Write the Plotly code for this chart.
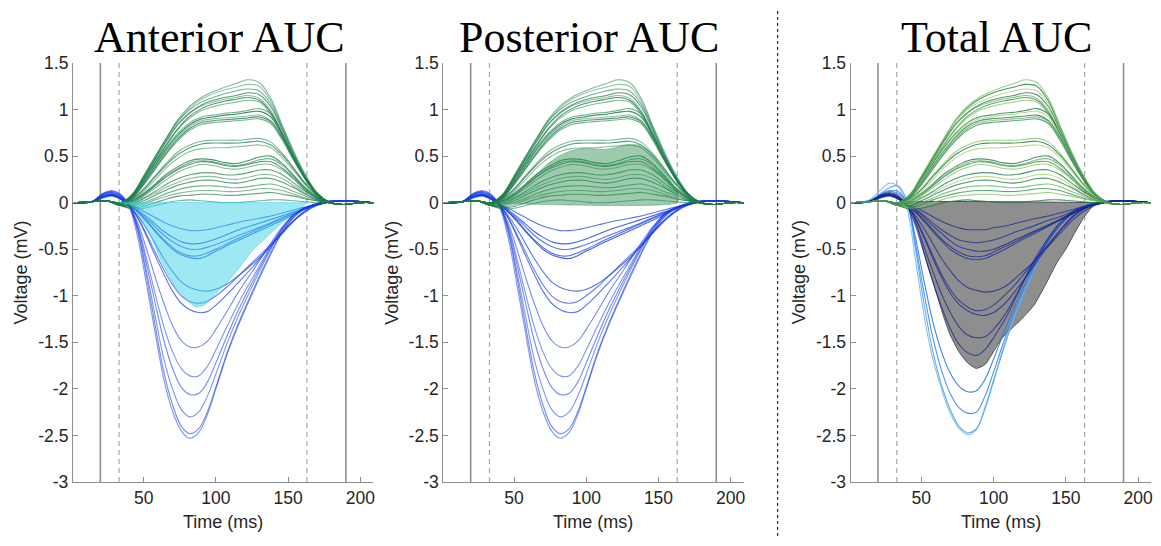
import plotly.graph_objects as go

W, H = 1161, 546

# ---------------- data ----------------
TIME_NEG = [1, 14, 22, 28, 34, 40, 46, 52, 58, 64, 70, 76, 82, 88, 94, 100, 108, 116, 126, 136, 146, 156, 166, 176, 188, 209]
TIME_POS = [1, 14, 24, 34, 42, 50, 58, 66, 74, 82, 90, 98, 106, 114, 122, 130, 138, 146, 154, 162, 170, 178, 188, 200, 209]

# negative (blue) channels, anterior / posterior panels
NEG_AP = [
    [0, 0.01, 0.09, 0.12, 0.08, -0.05, -0.38, -0.88, -1.4, -1.9, -2.24, -2.45, -2.53, -2.47, -2.28, -2.0, -1.62, -1.3, -0.95, -0.62, -0.32, -0.13, -0.03, 0.01, 0.02, 0],
    [0, 0.01, 0.1, 0.13, 0.09, -0.03, -0.32, -0.8, -1.32, -1.82, -2.17, -2.4, -2.48, -2.43, -2.25, -1.98, -1.6, -1.28, -0.93, -0.6, -0.31, -0.12, -0.03, 0.01, 0.02, 0],
    [0, 0.01, 0.1, 0.12, 0.08, -0.03, -0.3, -0.74, -1.22, -1.68, -2.0, -2.22, -2.3, -2.25, -2.08, -1.84, -1.5, -1.2, -0.87, -0.56, -0.29, -0.11, -0.03, 0.01, 0.02, 0],
    [0, 0.01, 0.09, 0.11, 0.07, -0.03, -0.27, -0.66, -1.08, -1.48, -1.78, -1.98, -2.06, -2.05, -1.93, -1.72, -1.42, -1.14, -0.83, -0.54, -0.28, -0.11, -0.03, 0.01, 0.02, 0],
    [0, 0.01, 0.09, 0.11, 0.07, -0.03, -0.25, -0.6, -0.98, -1.33, -1.6, -1.78, -1.86, -1.86, -1.76, -1.58, -1.32, -1.07, -0.79, -0.52, -0.27, -0.1, -0.03, 0.01, 0.02, 0],
    [0, 0.01, 0.08, 0.1, 0.06, -0.03, -0.22, -0.5, -0.8, -1.08, -1.32, -1.48, -1.55, -1.55, -1.49, -1.36, -1.16, -0.95, -0.72, -0.48, -0.26, -0.1, -0.03, 0.01, 0.02, 0],
    [0, 0.01, 0.07, 0.09, 0.05, -0.03, -0.17, -0.36, -0.57, -0.77, -0.95, -1.08, -1.15, -1.18, -1.17, -1.1, -0.98, -0.85, -0.68, -0.5, -0.32, -0.16, -0.05, 0.0, 0.02, 0],
    [0, 0.01, 0.07, 0.09, 0.05, -0.03, -0.16, -0.34, -0.53, -0.72, -0.88, -1.0, -1.06, -1.08, -1.06, -1.0, -0.9, -0.78, -0.63, -0.48, -0.31, -0.16, -0.05, 0.0, 0.02, 0],
    [0, 0.01, 0.06, 0.08, 0.04, -0.03, -0.14, -0.28, -0.44, -0.6, -0.74, -0.85, -0.91, -0.94, -0.95, -0.93, -0.87, -0.78, -0.65, -0.5, -0.33, -0.17, -0.06, 0.0, 0.02, 0],
    [0, 0.01, 0.07, 0.09, 0.05, -0.02, -0.1, -0.2, -0.31, -0.41, -0.5, -0.56, -0.59, -0.6, -0.57, -0.52, -0.46, -0.4, -0.33, -0.26, -0.19, -0.11, -0.04, 0.0, 0.02, 0],
    [0, 0.01, 0.07, 0.09, 0.05, -0.02, -0.1, -0.19, -0.3, -0.4, -0.48, -0.54, -0.57, -0.57, -0.54, -0.5, -0.44, -0.38, -0.31, -0.24, -0.17, -0.1, -0.04, 0.0, 0.02, 0],
    [0, 0.01, 0.06, 0.08, 0.04, -0.02, -0.09, -0.17, -0.26, -0.35, -0.42, -0.47, -0.5, -0.5, -0.48, -0.45, -0.4, -0.35, -0.29, -0.23, -0.16, -0.1, -0.04, 0.0, 0.02, 0],
    [0, 0.01, 0.06, 0.08, 0.04, -0.02, -0.08, -0.15, -0.23, -0.31, -0.37, -0.42, -0.44, -0.44, -0.42, -0.39, -0.34, -0.29, -0.24, -0.19, -0.14, -0.09, -0.04, 0.0, 0.02, 0],
    [0, 0.01, 0.05, 0.07, 0.04, -0.02, -0.06, -0.11, -0.16, -0.21, -0.25, -0.28, -0.3, -0.3, -0.29, -0.27, -0.24, -0.21, -0.18, -0.15, -0.11, -0.07, -0.03, 0.0, 0.02, 0],
]

# negative (blue) channels, total panel
NEG_TOTAL = [
    [0, 0.03, 0.14, 0.21, 0.17, -0.05, -0.62, -1.22, -1.68, -2.0, -2.26, -2.42, -2.49, -2.44, -2.2, -1.9, -1.5, -1.15, -0.78, -0.45, -0.22, -0.08, -0.02, 0.01, 0.02, 0],
    [0, 0.02, 0.1, 0.16, 0.18, 0.02, -0.5, -1.1, -1.6, -1.96, -2.22, -2.4, -2.47, -2.43, -2.22, -1.92, -1.52, -1.17, -0.8, -0.46, -0.22, -0.08, -0.02, 0.01, 0.02, 0],
    [0, 0.02, 0.09, 0.13, 0.12, 0.0, -0.45, -0.98, -1.45, -1.8, -2.05, -2.2, -2.26, -2.25, -2.08, -1.82, -1.45, -1.12, -0.77, -0.45, -0.22, -0.08, -0.02, 0.01, 0.02, 0],
    [0, 0.02, 0.09, 0.12, 0.1, 0.0, -0.38, -0.85, -1.28, -1.6, -1.83, -1.97, -2.03, -2.02, -1.9, -1.68, -1.36, -1.06, -0.74, -0.44, -0.21, -0.08, -0.02, 0.01, 0.02, 0],
    [0, 0.01, 0.08, 0.11, 0.08, -0.03, -0.25, -0.55, -0.85, -1.12, -1.35, -1.52, -1.61, -1.64, -1.58, -1.45, -1.25, -1.0, -0.68, -0.42, -0.22, -0.09, -0.02, 0.01, 0.02, 0],
    [0, 0.01, 0.08, 0.1, 0.07, -0.03, -0.22, -0.48, -0.74, -0.98, -1.18, -1.33, -1.42, -1.45, -1.44, -1.36, -1.2, -0.98, -0.7, -0.45, -0.24, -0.1, -0.03, 0.01, 0.02, 0],
    [0, 0.01, 0.07, 0.09, 0.06, -0.03, -0.18, -0.38, -0.6, -0.8, -0.97, -1.09, -1.16, -1.2, -1.21, -1.18, -1.08, -0.93, -0.72, -0.5, -0.3, -0.13, -0.04, 0.0, 0.02, 0],
    [0, 0.01, 0.07, 0.09, 0.06, -0.03, -0.17, -0.36, -0.57, -0.77, -0.93, -1.05, -1.12, -1.16, -1.15, -1.1, -0.99, -0.86, -0.67, -0.48, -0.3, -0.14, -0.04, 0.0, 0.02, 0],
    [0, 0.01, 0.06, 0.08, 0.05, -0.03, -0.14, -0.28, -0.44, -0.6, -0.73, -0.84, -0.91, -0.94, -0.96, -0.95, -0.9, -0.8, -0.66, -0.5, -0.33, -0.17, -0.06, 0.0, 0.02, 0],
    [0, 0.01, 0.07, 0.09, 0.05, -0.02, -0.1, -0.2, -0.31, -0.41, -0.5, -0.56, -0.6, -0.61, -0.6, -0.56, -0.5, -0.43, -0.35, -0.27, -0.19, -0.11, -0.04, 0.0, 0.02, 0],
    [0, 0.01, 0.07, 0.09, 0.05, -0.02, -0.1, -0.19, -0.29, -0.39, -0.47, -0.53, -0.57, -0.58, -0.57, -0.53, -0.47, -0.41, -0.33, -0.26, -0.18, -0.1, -0.04, 0.0, 0.02, 0],
    [0, 0.01, 0.06, 0.08, 0.04, -0.02, -0.08, -0.16, -0.25, -0.33, -0.41, -0.47, -0.5, -0.52, -0.52, -0.5, -0.45, -0.39, -0.32, -0.25, -0.18, -0.1, -0.04, 0.0, 0.02, 0],
    [0, 0.01, 0.06, 0.08, 0.04, -0.02, -0.07, -0.14, -0.22, -0.29, -0.35, -0.4, -0.42, -0.43, -0.42, -0.4, -0.36, -0.31, -0.26, -0.2, -0.15, -0.09, -0.04, 0.0, 0.02, 0],
    [0, 0.01, 0.05, 0.07, 0.04, -0.02, -0.05, -0.1, -0.15, -0.2, -0.24, -0.27, -0.29, -0.29, -0.29, -0.27, -0.25, -0.22, -0.18, -0.15, -0.11, -0.07, -0.03, 0.0, 0.02, 0],
]

# positive (green) channels
POS_CH = [
    [0, 0.01, 0.02, 0.0, 0.08, 0.28, 0.49, 0.7, 0.9, 1.04, 1.13, 1.19, 1.24, 1.28, 1.32, 1.29, 1.12, 0.83, 0.55, 0.3, 0.11, 0.01, -0.02, 0, 0],
    [0, 0.01, 0.02, 0.0, 0.08, 0.27, 0.48, 0.69, 0.88, 1.02, 1.11, 1.17, 1.21, 1.24, 1.27, 1.25, 1.09, 0.81, 0.53, 0.29, 0.1, 0.01, -0.02, 0, 0],
    [0, 0.01, 0.02, 0.0, 0.09, 0.29, 0.5, 0.7, 0.88, 1.0, 1.08, 1.13, 1.17, 1.2, 1.22, 1.2, 1.06, 0.8, 0.52, 0.28, 0.1, 0.01, -0.02, 0, 0],
    [0, 0.01, 0.02, 0.0, 0.08, 0.27, 0.47, 0.67, 0.85, 0.97, 1.05, 1.1, 1.13, 1.15, 1.18, 1.16, 1.03, 0.78, 0.51, 0.27, 0.1, 0.01, -0.02, 0, 0],
    [0, 0.01, 0.02, 0.0, 0.08, 0.26, 0.46, 0.66, 0.84, 0.96, 1.04, 1.08, 1.11, 1.13, 1.15, 1.12, 0.99, 0.75, 0.49, 0.26, 0.09, 0.01, -0.02, 0, 0],
    [0, 0.01, 0.02, 0.0, 0.07, 0.25, 0.44, 0.63, 0.8, 0.93, 1.01, 1.06, 1.09, 1.11, 1.13, 1.1, 0.97, 0.73, 0.48, 0.26, 0.09, 0.01, -0.02, 0, 0],
    [0, 0.01, 0.02, 0.0, 0.07, 0.24, 0.43, 0.62, 0.79, 0.91, 0.99, 1.03, 1.06, 1.08, 1.1, 1.08, 0.95, 0.72, 0.47, 0.25, 0.09, 0.01, -0.02, 0, 0],
    [0, 0.01, 0.02, 0.0, 0.07, 0.23, 0.42, 0.6, 0.75, 0.86, 0.92, 0.94, 0.96, 0.97, 0.99, 1.01, 0.95, 0.74, 0.49, 0.27, 0.1, 0.01, -0.02, 0, 0],
    [0, 0.01, 0.02, -0.01, 0.06, 0.22, 0.4, 0.58, 0.73, 0.84, 0.9, 0.92, 0.94, 0.95, 0.97, 0.98, 0.92, 0.72, 0.48, 0.26, 0.1, 0.01, -0.02, 0, 0],
    [0, 0.01, 0.02, -0.01, 0.06, 0.21, 0.39, 0.56, 0.71, 0.82, 0.88, 0.9, 0.91, 0.92, 0.93, 0.94, 0.88, 0.7, 0.47, 0.26, 0.09, 0.01, -0.02, 0, 0],
    [0, 0.01, 0.02, -0.01, 0.05, 0.2, 0.37, 0.54, 0.69, 0.8, 0.86, 0.88, 0.89, 0.9, 0.91, 0.92, 0.87, 0.69, 0.46, 0.25, 0.09, 0.01, -0.02, 0, 0],
    [0, 0.01, 0.02, -0.01, 0.05, 0.19, 0.36, 0.53, 0.67, 0.78, 0.84, 0.86, 0.87, 0.88, 0.89, 0.9, 0.85, 0.67, 0.45, 0.25, 0.09, 0.01, -0.02, 0, 0],
    [0, 0.01, 0.02, -0.01, 0.04, 0.15, 0.29, 0.43, 0.55, 0.62, 0.66, 0.67, 0.67, 0.67, 0.68, 0.69, 0.65, 0.53, 0.37, 0.21, 0.08, 0.0, -0.02, 0, 0],
    [0, 0.01, 0.02, -0.01, 0.04, 0.14, 0.28, 0.41, 0.52, 0.59, 0.63, 0.64, 0.64, 0.64, 0.65, 0.66, 0.62, 0.51, 0.36, 0.2, 0.08, 0.0, -0.02, 0, 0],
    [0, 0.01, 0.02, -0.02, 0.03, 0.12, 0.25, 0.38, 0.48, 0.55, 0.58, 0.59, 0.59, 0.6, 0.61, 0.62, 0.59, 0.48, 0.34, 0.19, 0.07, 0.0, -0.02, 0, 0],
    [0, 0.01, 0.02, -0.02, 0.02, 0.1, 0.2, 0.31, 0.39, 0.45, 0.47, 0.46, 0.43, 0.42, 0.45, 0.49, 0.5, 0.42, 0.29, 0.16, 0.06, 0.0, -0.02, 0, 0],
    [0, 0.01, 0.02, -0.02, 0.02, 0.09, 0.19, 0.29, 0.37, 0.43, 0.45, 0.44, 0.41, 0.4, 0.42, 0.46, 0.47, 0.4, 0.28, 0.15, 0.06, 0.0, -0.02, 0, 0],
    [0, 0.01, 0.02, -0.02, 0.01, 0.08, 0.18, 0.28, 0.36, 0.41, 0.44, 0.43, 0.4, 0.39, 0.41, 0.44, 0.44, 0.37, 0.26, 0.14, 0.05, 0.0, -0.02, 0, 0],
    [0, 0.01, 0.02, -0.03, 0.0, 0.07, 0.16, 0.25, 0.33, 0.38, 0.41, 0.4, 0.37, 0.36, 0.38, 0.41, 0.41, 0.35, 0.25, 0.13, 0.05, 0.0, -0.02, 0, 0],
    [0, 0.01, 0.02, -0.03, -0.01, 0.05, 0.12, 0.2, 0.26, 0.3, 0.32, 0.32, 0.3, 0.3, 0.32, 0.35, 0.35, 0.3, 0.21, 0.12, 0.05, 0.0, -0.02, 0, 0],
    [0, 0.01, 0.02, -0.03, -0.02, 0.04, 0.1, 0.17, 0.22, 0.26, 0.28, 0.28, 0.26, 0.25, 0.27, 0.3, 0.3, 0.26, 0.18, 0.1, 0.04, 0.0, -0.02, 0, 0],
    [0, 0.01, 0.02, -0.03, -0.03, 0.02, 0.08, 0.14, 0.19, 0.22, 0.24, 0.24, 0.22, 0.21, 0.23, 0.26, 0.26, 0.22, 0.16, 0.09, 0.03, 0.0, -0.02, 0, 0],
    [0, 0.01, 0.02, -0.03, -0.04, 0.0, 0.05, 0.1, 0.14, 0.17, 0.18, 0.18, 0.17, 0.16, 0.17, 0.19, 0.2, 0.17, 0.12, 0.07, 0.03, 0.0, -0.02, 0, 0],
    [0, 0.01, 0.02, -0.03, -0.05, -0.02, 0.03, 0.07, 0.1, 0.12, 0.13, 0.13, 0.12, 0.12, 0.13, 0.15, 0.15, 0.13, 0.09, 0.05, 0.02, 0.0, -0.02, 0, 0],
    [0, 0.01, 0.02, -0.03, -0.06, -0.04, 0.0, 0.04, 0.07, 0.08, 0.09, 0.09, 0.08, 0.08, 0.09, 0.1, 0.11, 0.09, 0.07, 0.04, 0.02, 0.0, -0.02, 0, 0],
    [0, 0.01, 0.02, -0.03, -0.07, -0.06, -0.03, 0.0, 0.02, 0.03, 0.02, 0.01, 0.0, 0.0, 0.01, 0.02, 0.03, 0.03, 0.02, 0.01, 0.0, 0.0, -0.02, 0, 0],
]

# shaded areas
ANT_FILL_X = [33, 37, 40, 43, 46, 50, 54, 58, 63, 68, 73, 80, 86, 92, 97, 103, 108, 114, 120, 126, 133, 140, 147, 154, 159, 163]
ANT_FILL_Y = [0, -0.005, -0.02, -0.06, -0.12, -0.22, -0.33, -0.47, -0.65, -0.8, -0.93, -1.05, -1.12, -1.1, -1.02, -0.93, -0.85, -0.74, -0.62, -0.5, -0.4, -0.3, -0.2, -0.12, -0.06, 0]
POST_FILL_X = [33, 38, 45, 52, 58, 65, 72, 80, 88, 96, 104, 112, 120, 128, 136, 142, 148, 154, 159, 163]
POST_FILL_Y = [0, 0.01, 0.04, 0.1, 0.18, 0.29, 0.4, 0.49, 0.55, 0.58, 0.58, 0.57, 0.59, 0.62, 0.62, 0.57, 0.47, 0.34, 0.22, 0.12]
TOT_FILL_X = [35, 42, 48, 52, 58, 62, 66, 70, 76, 82, 88, 94, 100, 106, 112, 120, 128, 136, 144, 150, 156, 162, 168, 172]
TOT_FILL_Y = [0, -0.05, -0.3, -0.55, -0.85, -1.05, -1.25, -1.42, -1.6, -1.72, -1.78, -1.74, -1.6, -1.45, -1.36, -1.24, -1.1, -0.88, -0.64, -0.5, -0.33, -0.17, -0.05, 0]

EDGE_LINES = [20, 190]
WINDOW_LINES = [33, 163]
X_TICKS = [50, 100, 150, 200]
Y_TICKS = [1.5, 1, 0.5, 0, -0.5, -1, -1.5, -2, -2.5, -3]
Y_TICK_TEXT = ["1.5", "1", "0.5", "0", "-0.5", "-1", "-1.5", "-2", "-2.5", "-3"]
TITLES = ["Anterior AUC", "Posterior AUC", "Total AUC"]

# ---------------- layout geometry (pixels) ----------------
PANEL_LEFT = [73, 444, 852]
PANEL_W = 301
PLOT_TOP, PLOT_BOTTOM = 55, 490
SEPARATOR_X = 779
TITLE_SHIFT = -4


def px_x(p):
    return p / W


def px_y(p):
    return 1 - p / H


fig = go.Figure()
axis_ids = ["", "2", "3"]

BLUE_AP_ALPHA = [0.55, 0.6, 0.55, 0.6, 0.55, 0.6, 0.7, 0.65, 0.7, 0.8, 0.75, 0.7, 0.8, 0.7]
GREEN_ALPHA = [0.55, 0.45, 0.6, 0.75, 0.5, 0.8, 0.55, 0.6, 0.85, 0.5, 0.8, 0.6, 0.55, 0.75, 0.5,
               0.8, 0.6, 0.75, 0.55, 0.7, 0.5, 0.75, 0.6, 0.55, 0.7, 0.6]
GREEN_TOT = ["rgba(130,195,90,0.75)", "rgba(35,125,80,0.8)", "rgba(165,210,110,0.75)",
             "rgba(30,110,75,0.75)", "rgba(95,175,95,0.75)", "rgba(55,145,85,0.8)"]
BLUE_TOT = ["rgba(130,190,242,0.95)", "rgba(95,165,236,0.95)", "rgba(60,140,228,0.9)",
            "rgba(40,120,222,0.9)"] + ["rgba(22,38,150,0.72)"] * 10


def add_line(x, y, color, ax, width=1.1):
    fig.add_trace(go.Scatter(
        x=x, y=y, mode="lines",
        line=dict(color=color, width=width, shape="spline", smoothing=1.0, simplify=False),
        xaxis="x" + ax, yaxis="y" + ax, hoverinfo="skip", showlegend=False))


def add_fill(xs, ys, fill, line_color, ax, lw):
    # closed polygon: curve followed by the zero baseline back to the start
    px = list(xs) + [xs[-1], xs[0]]
    py = list(ys) + [0, 0]
    fig.add_trace(go.Scatter(
        x=px, y=py, mode="lines", fill="toself", fillcolor=fill,
        line=dict(color=line_color, width=lw, shape="spline", smoothing=0.5, simplify=False),
        xaxis="x" + ax, yaxis="y" + ax, hoverinfo="skip", showlegend=False))


for p, ax in enumerate(axis_ids):
    if p == 2:
        add_fill(TOT_FILL_X, TOT_FILL_Y, "rgb(142,142,142)", "rgb(80,80,80)", ax, 1.0)
    negs = NEG_AP if p < 2 else NEG_TOTAL
    for i, yv in enumerate(negs):
        col = f"rgba(22,60,230,{BLUE_AP_ALPHA[i]})" if p < 2 else BLUE_TOT[i]
        add_line(TIME_NEG, yv, col, ax)
    for i, yv in enumerate(POS_CH):
        col = f"rgba(30,125,75,{GREEN_ALPHA[i]})" if p < 2 else GREEN_TOT[i % len(GREEN_TOT)]
        add_line(TIME_POS, yv, col, ax)
    # semi-transparent shaded areas on top of the channel traces
    if p == 0:
        add_fill(ANT_FILL_X, ANT_FILL_Y, "rgba(60,210,232,0.5)", "rgba(60,200,225,0.6)", ax, 0.8)
    if p == 1:
        add_fill(POST_FILL_X, POST_FILL_Y, "rgba(40,140,75,0.45)", "rgba(40,140,75,0.5)", ax, 0.8)

layout = dict(
    width=W, height=H, margin=dict(l=0, r=0, t=0, b=0),
    paper_bgcolor="white", plot_bgcolor="white", showlegend=False,
    font=dict(family="Liberation Sans, Arial, sans-serif", size=17, color="#262626"),
)
shapes = []
annotations = []
for p, ax in enumerate(axis_ids):
    x0 = px_x(PANEL_LEFT[p])
    x1 = px_x(PANEL_LEFT[p] + PANEL_W)
    layout["xaxis" + ax] = dict(
        domain=[x0, x1], range=[1, 209], anchor="y" + ax,
        showline=True, linecolor="#8f8f8f", linewidth=1, mirror=False,
        ticks="inside", ticklen=5, tickcolor="#8f8f8f", tickvals=X_TICKS,
        showgrid=False, zeroline=False, tickfont=dict(size=17.5, color="#262626"),
    )
    layout["yaxis" + ax] = dict(
        domain=[px_y(PLOT_BOTTOM), px_y(PLOT_TOP)], range=[-3, 1.5], anchor="x" + ax,
        showline=True, linecolor="#8f8f8f", linewidth=1, mirror=False,
        ticks="inside", ticklen=5, tickcolor="#8f8f8f",
        tickvals=Y_TICKS, ticktext=Y_TICK_TEXT,
        showgrid=False, zeroline=False, tickfont=dict(size=17.5, color="#262626"),
    )
    xref = "x" + ax
    yref_dom = ("y" + ax) + " domain"
    for xv in EDGE_LINES:
        shapes.append(dict(type="line", xref=xref, yref=yref_dom, x0=xv, x1=xv, y0=0, y1=1,
                           line=dict(color="#8a8a8a", width=1.5), layer="below"))
    for xv in WINDOW_LINES:
        shapes.append(dict(type="line", xref=xref, yref=yref_dom, x0=xv, x1=xv, y0=0, y1=1,
                           line=dict(color="#a6a6a6", width=1.2, dash="5px,4px"), layer="below"))
    cx = px_x(PANEL_LEFT[p] + PANEL_W / 2)
    annotations.append(dict(text=TITLES[p], xref="paper", yref="paper",
                            x=px_x(PANEL_LEFT[p] + PANEL_W / 2 + TITLE_SHIFT), y=px_y(29),
                            xanchor="center", yanchor="middle", showarrow=False,
                            font=dict(family="Liberation Serif, Times New Roman, serif", size=44, color="black")))
    annotations.append(dict(text="Time (ms)", xref="paper", yref="paper", x=cx, y=px_y(531),
                            xanchor="center", yanchor="middle", showarrow=False,
                            font=dict(size=18, color="#262626")))
    annotations.append(dict(text="Voltage (mV)", xref="paper", yref="paper",
                            x=px_x(PANEL_LEFT[p] - 52), y=px_y((PLOT_TOP + PLOT_BOTTOM) / 2),
                            xanchor="center", yanchor="middle", textangle=-90, showarrow=False,
                            font=dict(size=18, color="#262626")))

shapes.append(dict(type="line", xref="paper", yref="paper", x0=px_x(SEPARATOR_X), x1=px_x(SEPARATOR_X),
                   y0=0, y1=1, line=dict(color="black", width=1, dash="dot")))
layout["shapes"] = shapes
layout["annotations"] = annotations
fig.update_layout(**layout)
fig.write_html("out.html")
